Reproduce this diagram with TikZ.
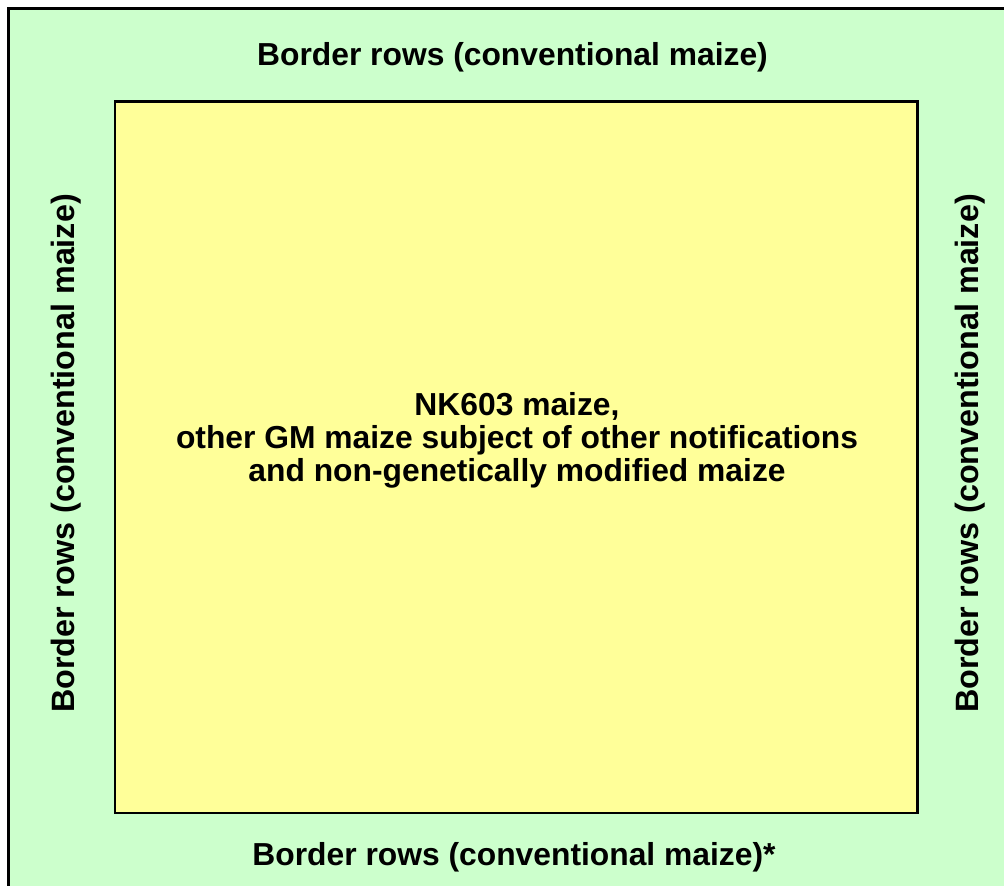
\documentclass[tikz,border=0pt]{standalone}
\usepackage{fontspec}
\setmainfont{Liberation Sans}
\usetikzlibrary{positioning}
\definecolor{bordergreen}{RGB}{204,255,204}
\definecolor{trialyellow}{RGB}{255,255,153}
\tikzset{
    field box/.style={line width=2.8pt, black},
    border area/.style={field box, fill=bordergreen},
    trial area/.style={field box, fill=trialyellow},
    row label/.style={font=\bfseries\fontsize{31.8}{33}\selectfont, inner sep=0pt, align=center},
    side label/.style={row label, font=\bfseries\fontsize{32.3}{33}\selectfont, rotate=90}
}

\begin{document}
\begin{tikzpicture}[x=1pt,y=-1pt]
	\clip (0,0) rectangle (1004,886);
	\fill[white] (0,0) rectangle (1004,886);
	% outer border rows, right and bottom edges run off the page
	\draw[border area] (8.7,8.7) rectangle (1014,896);
	\draw[trial area] (115,101.3) rectangle (917.3,813);
	\node[row label] (north) at (512.5,57.5) {Border rows (conventional maize)};
	\node[row label] (south) at (514,857.5) {Border rows (conventional maize)*};
	\node[side label] (west) at (66,453.5) {Border rows (conventional maize)};
	\node[side label] (east) at (970,453.5) {Border rows (conventional maize)};
	\node[row label] (centre) at (517,440.5) {NK603 maize,\\other GM maize subject of other notifications\\and non-genetically modified maize};
\end{tikzpicture}
\end{document}
